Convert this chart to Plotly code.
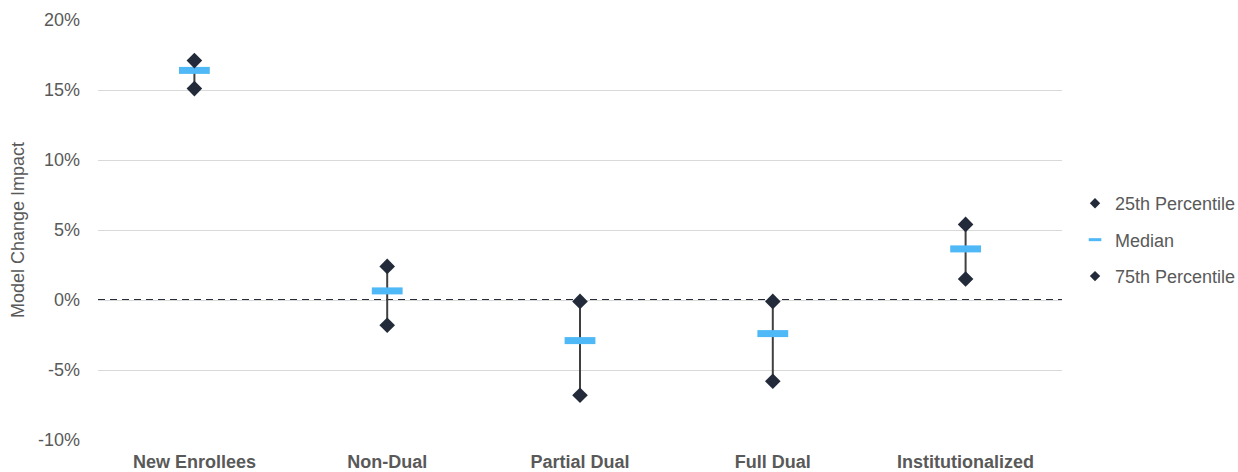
import plotly.graph_objects as go

categories = ["New Enrollees", "Non-Dual", "Partial Dual", "Full Dual", "Institutionalized"]
p25 = [15.1, -1.8, -6.8, -5.8, 1.5]
median = [16.4, 0.65, -2.9, -2.4, 3.65]
p75 = [17.1, 2.4, -0.1, -0.1, 5.4]

y_ticks = [-10, -5, 0, 5, 10, 15, 20]
y_tick_text = ["-10%", "-5%", "0%", "5%", "10%", "15%", "20%"]

dark = "#232B3A"
blue = "#4FB8F7"
txt = "#595959"
FONT = "Liberation Sans, Arial, sans-serif"

fig = go.Figure()

# whisker lines
lx, ly = [], []
for c, lo, hi in zip(categories, p25, p75):
    lx += [c, c, None]
    ly += [lo, hi, None]
fig.add_trace(go.Scatter(x=lx, y=ly, mode="lines", line=dict(color="#404040", width=2),
                         showlegend=False, hoverinfo="skip"))

fig.add_trace(go.Scatter(x=categories, y=p25, mode="markers", name="25th Percentile",
                         marker=dict(symbol="diamond", size=12, color=dark), showlegend=False))
fig.add_trace(go.Scatter(x=categories, y=median, mode="markers", name="Median",
                         marker=dict(symbol="line-ew", size=22, color=blue,
                                     line=dict(color=blue, width=7)), showlegend=False))
fig.add_trace(go.Scatter(x=categories, y=p75, mode="markers", name="75th Percentile",
                         marker=dict(symbol="diamond", size=12, color=dark), showlegend=False))

# legend entries
fig.add_trace(go.Scatter(x=[None], y=[None], mode="markers", name="25th Percentile",
                         marker=dict(symbol="diamond", size=8, color=dark), legendgroup="a"))
fig.add_trace(go.Scatter(x=[None], y=[None], mode="markers", name="Median",
                         marker=dict(symbol="line-ew", size=9, color=blue,
                                     line=dict(color=blue, width=3)), legendgroup="b"))
fig.add_trace(go.Scatter(x=[None], y=[None], mode="markers", name="75th Percentile",
                         marker=dict(symbol="diamond", size=8, color=dark), legendgroup="c"))

fig.add_shape(type="line", xref="paper", yref="y", x0=0, x1=1, y0=0, y1=0,
              line=dict(color=dark, width=2, dash="7px,5px"), layer="below")

fig.update_layout(
    width=1238, height=472,
    margin=dict(l=98, r=176, t=20, b=32, autoexpand=False),
    plot_bgcolor="white", paper_bgcolor="white",
    font=dict(family=FONT, size=18, color=txt),
    legend=dict(x=1.0135, xanchor="left", y=0.476, yanchor="middle",
                tracegroupgap=10, font=dict(size=18, color=txt), itemwidth=30),
    xaxis=dict(showgrid=False, showline=False, ticks="", automargin=False,
               range=[-0.5, len(categories) - 0.5],
               ticklabelstandoff=9,
               tickfont=dict(size=18, color=txt, family=FONT),
               tickprefix="<b>", ticksuffix="</b>"),
    yaxis=dict(range=[-10, 20], tickvals=y_ticks, ticktext=y_tick_text, showgrid=True,
               gridcolor="#D9D9D9", gridwidth=1, zeroline=False, showline=False,
               automargin=False, ticklabelstandoff=17,
               title=dict(text="Model Change Impact", font=dict(size=18, color=txt), standoff=8),
               tickfont=dict(size=18, color=txt)),
)

fig.write_html("out.html", config={"displayModeBar": False},
               post_script="document.body.style.margin='0';")
